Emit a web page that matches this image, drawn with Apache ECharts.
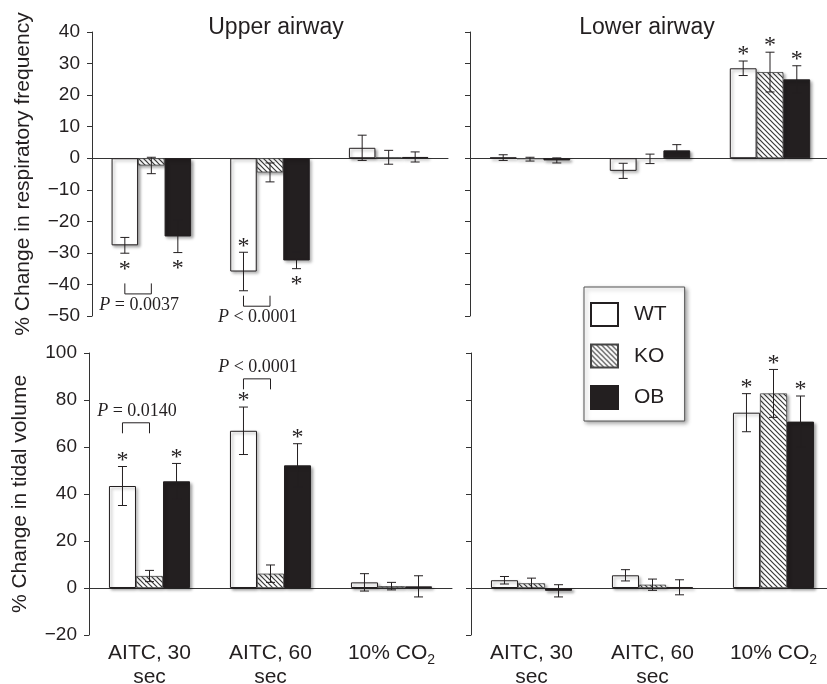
<!DOCTYPE html>
<html>
<head>
<meta charset="utf-8">
<script src="https://cdn.jsdelivr.net/npm/echarts@6/dist/echarts.min.js"></script>
<style>
	html, body { margin: 0; padding: 0; background: #fff; }
	#chart { width: 827px; height: 684px; }
</style>
</head>
<body>
<div id="chart"></div>
<script>
const categories = ['AITC, 30\nsec', 'AITC, 60\nsec', '10% CO₂'];
const groups = ['WT', 'KO', 'OB'];

// upper airway, % change in respiratory frequency
const upperFreqWT = [-27.6, -35.9, 3.3];
const upperFreqKO = [-2.3, -4.5, 0.3];
const upperFreqOB = [-24.8, -32.4, 0.4];
const upperFreqErrWT = [2.5, 6.1, 4.0];
const upperFreqErrKO = [2.6, 3.0, 2.2];
const upperFreqErrOB = [5.1, 2.6, 1.6];

// lower airway, % change in respiratory frequency
const lowerFreqWT = [0.2, -4.0, 28.5];
const lowerFreqKO = [-0.3, -0.2, 27.3];
const lowerFreqOB = [-0.7, 2.5, 25.0];
const lowerFreqErrWT = [0.9, 2.4, 2.3];
const lowerFreqErrKO = [0.6, 1.5, 6.3];
const lowerFreqErrOB = [0.8, 1.8, 4.3];

// upper airway, % change in tidal volume
const upperTidalWT = [43.4, 66.9, 2.4];
const upperTidalKO = [5.1, 6.1, 0.8];
const upperTidalOB = [45.4, 52.2, 0.7];
const upperTidalErrWT = [8.3, 10.1, 3.7];
const upperTidalErrKO = [2.4, 3.7, 1.6];
const upperTidalErrOB = [7.6, 9.2, 4.5];

// lower airway, % change in tidal volume
const lowerTidalWT = [3.3, 5.4, 74.6];
const lowerTidalKO = [2.0, 1.4, 82.8];
const lowerTidalOB = [-1.2, 0.3, 70.8];
const lowerTidalErrWT = [1.6, 2.4, 8.1];
const lowerTidalErrKO = [2.2, 2.4, 10.2];
const lowerTidalErrOB = [2.6, 3.2, 10.9];

// significance stars: [category, group, side of error bar (+1 upper end, -1 lower end)]
const upperFreqStars = [[0, 0, -1], [0, 2, -1], [1, 0, 1], [1, 2, -1]];
const lowerFreqStars = [[2, 0, 1], [2, 1, 1], [2, 2, 1]];
const upperTidalStars = [[0, 0, 1], [0, 2, 1], [1, 0, 1], [1, 2, 1]];
const lowerTidalStars = [[2, 0, 1], [2, 1, 1], [2, 2, 1]];

// WT vs KO comparisons: [category, bracket level, label]
const upperFreqBrackets = [[0, -43, 'P = 0.0037'], [1, -46.9, 'P < 0.0001']];
const upperTidalBrackets = [[0, 70.3, 'P = 0.0140'], [1, 89, 'P < 0.0001']];

const FONT = '"Liberation Sans", Arial, sans-serif';
const SERIF = '"Liberation Serif", "Times New Roman", serif';
const INK = '#231f20';
const CAT_GAP = 0.33;

function hatch() {
	const c = document.createElement('canvas');
	c.width = c.height = 5;
	const g = c.getContext('2d');
	g.fillStyle = '#fff';
	g.fillRect(0, 0, 5, 5);
	g.strokeStyle = '#3a3a3a';
	g.lineWidth = 1.2;
	g.beginPath();
	g.moveTo(-1, -1); g.lineTo(6, 6);
	g.moveTo(-1, 4); g.lineTo(1, 6);
	g.moveTo(4, -1); g.lineTo(6, 1);
	g.stroke();
	return c;
}

const shadow = { shadowBlur: 3, shadowColor: 'rgba(0,0,0,0.35)', shadowOffsetX: 2, shadowOffsetY: 2 };
const barStyles = [
	Object.assign({ color: '#fff', borderColor: INK, borderWidth: 1 }, shadow),
	Object.assign({ color: { image: hatch(), repeat: 'repeat' }, borderColor: '#444', borderWidth: 0.8 }, shadow),
	Object.assign({ color: INK, borderColor: INK, borderWidth: 1 }, shadow),
];

const panels = [{
	grid: { left: 92, top: 32, width: 356, height: 284 },
	y: { min: -50, max: 40, interval: 10 },
	labels: true, xLabels: false, name: '% Change in respiratory frequency',
	values: [upperFreqWT, upperFreqKO, upperFreqOB],
	errs: [upperFreqErrWT, upperFreqErrKO, upperFreqErrOB],
	stars: upperFreqStars, brackets: upperFreqBrackets,
}, {
	grid: { left: 470, top: 32, width: 360, height: 284 },
	y: { min: -50, max: 40, interval: 10 },
	labels: false, xLabels: false,
	values: [lowerFreqWT, lowerFreqKO, lowerFreqOB],
	errs: [lowerFreqErrWT, lowerFreqErrKO, lowerFreqErrOB],
	stars: lowerFreqStars, brackets: [],
}, {
	grid: { left: 89, top: 353, width: 363, height: 282 },
	y: { min: -20, max: 100, interval: 20 },
	labels: true, xLabels: true, name: '% Change in tidal volume',
	values: [upperTidalWT, upperTidalKO, upperTidalOB],
	errs: [upperTidalErrWT, upperTidalErrKO, upperTidalErrOB],
	stars: upperTidalStars, brackets: upperTidalBrackets,
}, {
	grid: { left: 471, top: 353, width: 363, height: 282 },
	y: { min: -20, max: 100, interval: 20 },
	labels: false, xLabels: true,
	values: [lowerTidalWT, lowerTidalKO, lowerTidalOB],
	errs: [lowerTidalErrWT, lowerTidalErrKO, lowerTidalErrOB],
	stars: lowerTidalStars, brackets: [],
}];

function barX(api, cat, j) {
	const bw = api.size([1, 0])[0] * (1 - CAT_GAP) / 3;
	return api.coord([cat, 0])[0] + (j - 1) * bw;
}

function renderErr(params, api) {
	const cat = api.value(0), v = api.value(1), e = api.value(2), j = api.value(3);
	const x = barX(api, cat, j);
	const y1 = api.coord([cat, v + e])[1];
	const y2 = api.coord([cat, v - e])[1];
	const st = { stroke: INK, lineWidth: 1 };
	return {
		type: 'group',
		children: [
			{ type: 'line', shape: { x1: x, y1: y1, x2: x, y2: y2 }, style: st },
			{ type: 'line', shape: { x1: x - 4.5, y1: y1, x2: x + 4.5, y2: y1 }, style: st },
			{ type: 'line', shape: { x1: x - 4.5, y1: y2, x2: x + 4.5, y2: y2 }, style: st },
		],
	};
}

function renderStar(params, api) {
	const cat = api.value(0), v = api.value(1), e = api.value(2), j = api.value(3), side = api.value(4);
	const x = barX(api, cat, j);
	const y = api.coord([cat, v + side * e])[1] - side * 11;
	return {
		type: 'text', x: x, y: y + 5,
		style: { text: '*', fontSize: 24, fontFamily: SERIF, fill: INK, align: 'center', verticalAlign: 'middle' },
	};
}

function bracketRenderer(list) {
	return (params, api) => {
		const item = list[params.dataIndex];
		const cat = item[0], level = item[1];
		const x0 = barX(api, cat, 0), x1 = barX(api, cat, 1);
		const y = api.coord([cat, level])[1];
		const dir = level < 0 ? -1 : 1; // legs point toward the bars
		const label = item[2].split('P');
		return {
			type: 'group',
			children: [{
				type: 'polyline',
				shape: { points: [[x0, y + dir * 10.5], [x0, y], [x1, y], [x1, y + dir * 10.5]] },
				style: { stroke: INK, lineWidth: 1, fill: null },
			}, {
				type: 'text', x: (x0 + x1) / 2 + 1, y: y - dir * 11.5,
				style: {
					text: '{i|P}' + label[1],
					rich: { i: { fontStyle: 'italic', fontFamily: SERIF, fontSize: 18, fill: INK } },
					fontFamily: SERIF, fontSize: 18, fill: INK, align: 'center', verticalAlign: 'middle',
				},
			}],
		};
	};
}

const grid = [], xAxis = [], yAxis = [], series = [];
panels.forEach((p, pi) => {
	grid.push(Object.assign({ containLabel: false, outerBoundsMode: 'none' }, p.grid));
	xAxis.push({
		type: 'category', gridIndex: pi, data: categories,
		axisLine: { onZero: true, lineStyle: { color: '#333', width: 1 } },
		axisTick: { length: 5, lineStyle: { color: '#333' } },
		axisLabel: {
			show: p.xLabels, interval: 0, margin: 6, fontSize: 21, lineHeight: 24, fontFamily: FONT, color: INK,
			formatter: (s) => s.replace('₂', '{s|2}'),
			rich: { s: { fontSize: 14, fontFamily: FONT, color: INK, padding: [14, 0, 0, 0] } },
		},
		splitLine: { show: false },
	});
	yAxis.push({
		type: 'value', gridIndex: pi, min: p.y.min, max: p.y.max, interval: p.y.interval,
		name: p.name || '', nameLocation: 'middle', nameGap: 58, nameRotate: 90,
		nameTextStyle: { fontSize: 21, fontFamily: FONT, color: INK },
		axisLine: { show: true, onZero: false, lineStyle: { color: '#333', width: 1 } },
		axisTick: { show: true, length: 5, lineStyle: { color: '#333' } },
		axisLabel: {
			show: p.labels, margin: 12, fontSize: 19, fontFamily: FONT, color: INK,
			formatter: (v) => (v < 0 ? '−' + (-v) : String(v)),
		},
		splitLine: { show: false },
	});
	groups.forEach((g, j) => {
		series.push({
			type: 'bar', name: g, xAxisIndex: pi, yAxisIndex: pi, data: p.values[j],
			barGap: '0%', barCategoryGap: (CAT_GAP * 100) + '%', itemStyle: barStyles[j],
		});
	});
	const errData = [], starData = [];
	groups.forEach((g, j) => {
		p.values[j].forEach((v, c) => errData.push([c, v, p.errs[j][c], j]));
	});
	p.stars.forEach(([c, j, side]) => starData.push([c, p.values[j][c], p.errs[j][c], j, side]));
	series.push({ type: 'custom', xAxisIndex: pi, yAxisIndex: pi, renderItem: renderErr, data: errData, z: 5, clip: false, encode: { x: 0, y: 1 } });
	series.push({ type: 'custom', xAxisIndex: pi, yAxisIndex: pi, renderItem: renderStar, data: starData, z: 6, clip: false, encode: { x: 0, y: 1 } });
	if (p.brackets.length) {
		series.push({
			type: 'custom', xAxisIndex: pi, yAxisIndex: pi, renderItem: bracketRenderer(p.brackets),
			data: p.brackets.map((b) => [b[0], b[1]]), z: 6, clip: false, encode: { x: 0, y: 1 },
		});
	}
});

const chart = echarts.init(document.getElementById('chart'), null, { renderer: 'canvas' });
chart.setOption({
	animation: false,
	backgroundColor: '#fff',
	title: [{
		text: 'Upper airway', left: 271, top: 11, textAlign: 'center',
		textStyle: { fontSize: 23, fontWeight: 'normal', fontFamily: FONT, color: INK },
	}, {
		text: 'Lower airway', left: 642, top: 11, textAlign: 'center',
		textStyle: { fontSize: 23, fontWeight: 'normal', fontFamily: FONT, color: INK },
	}],
	legend: {
		data: groups, orient: 'vertical', left: 584, top: 287,
		itemWidth: 27, itemHeight: 23, itemGap: 16.5, icon: 'rect',
		padding: [15, 18, 11, 6],
		backgroundColor: '#fff', borderColor: '#555', borderWidth: 1,
		shadowBlur: 4, shadowColor: 'rgba(0,0,0,0.35)', shadowOffsetX: 2, shadowOffsetY: 2,
		itemStyle: { shadowBlur: 0, shadowOffsetX: 0, shadowOffsetY: 0 },
		textStyle: { fontSize: 21, fontFamily: FONT, color: INK, padding: [0, 0, 0, 11] },
		selectedMode: false,
	},
	grid: grid,
	xAxis: xAxis,
	yAxis: yAxis,
	series: series,
});
</script>
</body>
</html>
